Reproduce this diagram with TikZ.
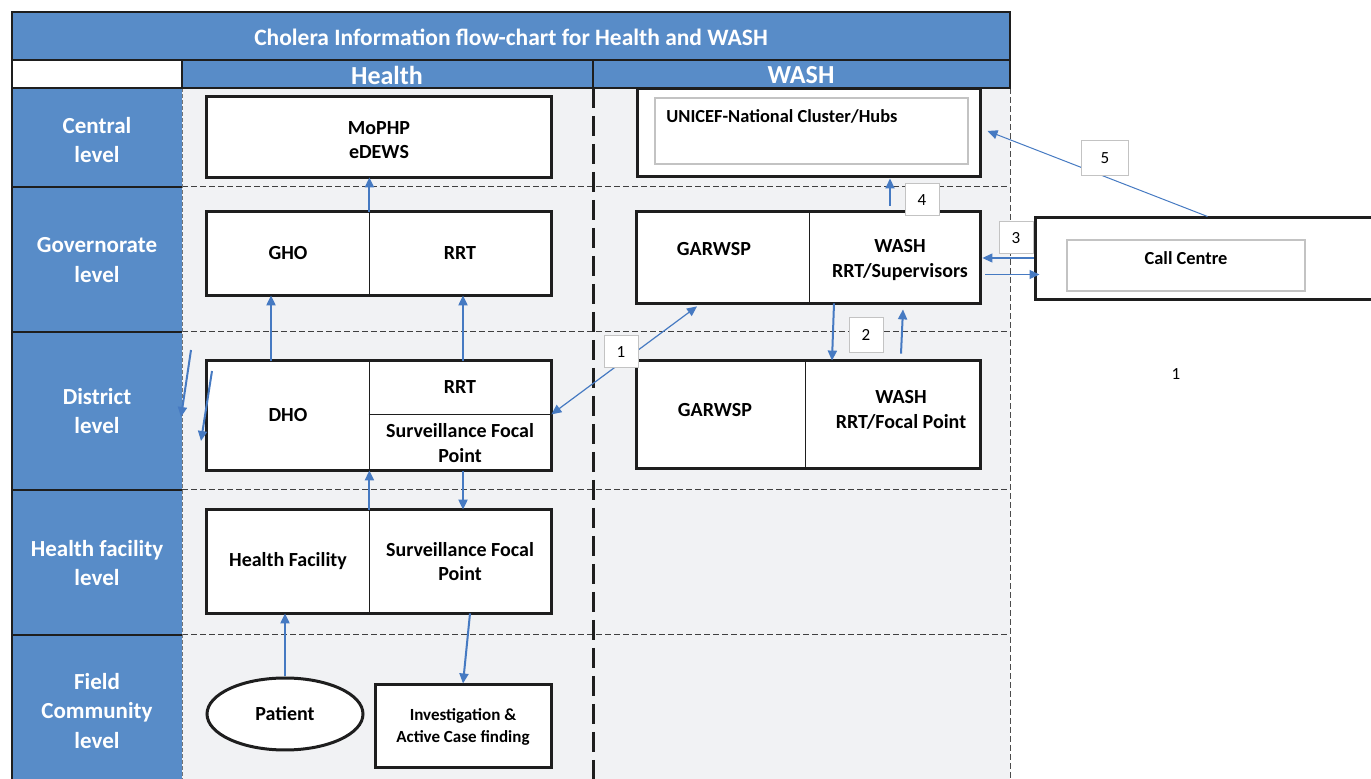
\documentclass[tikz,border=0pt]{standalone}
\usepackage{fontspec}
\setmainfont{Carlito}
\usetikzlibrary{arrows.meta,shapes.geometric}

\definecolor{hdrblue}{RGB}{88,140,200}
\definecolor{flowblue}{RGB}{70,122,194}
\definecolor{panel}{RGB}{241,242,244}
\definecolor{edge}{RGB}{30,30,30}
\definecolor{softgray}{RGB}{195,195,195}

\begin{document}
\begin{tikzpicture}[x=0.5pt,y=-0.5pt,
  cell/.style={inner sep=0pt, align=center, font=\bfseries\fontsize{10}{12.3}\selectfont},
  frame/.style={draw=edge, line width=1.5pt},
  divider/.style={draw=edge, line width=0.6pt},
  lvl/.style={text=white, align=center, font=\bfseries\fontsize{11.5}{14.8}\selectfont},
  flow/.style={draw=flowblue, line width=1pt, -{Triangle[length=5pt,width=4.5pt]}},
  thinflow/.style={draw=flowblue, line width=0.6pt, -{Triangle[length=5pt,width=4.5pt]}},
  numbox/.style={draw=softgray, fill=white, line width=0.5pt, inner sep=0pt,
    minimum width=17pt, minimum height=16pt, font=\fontsize{8.5}{9}\selectfont},
  rowsep/.style={draw=black!75, line width=0.5pt, dash pattern=on 3pt off 1.5pt},
  colsep/.style={draw=edge, line width=1.5pt, dash pattern=on 10pt off 4pt}
]
\useasboundingbox (0,0) rectangle (1371,779);

% ---- background panels ----
\fill[panel] (182,88) rectangle (1010,779);
\fill[hdrblue] (12,88) rectangle (182,779);
\draw[edge, line width=0.6pt] (12,88) -- (12,779);
\foreach \yy in {187,332,490,635}{
  \draw[edge, line width=0.6pt] (12,\yy) -- (182,\yy);
  \draw[rowsep] (182,\yy) -- (1010,\yy);
}
\draw[softgray!60!black, line width=0.4pt, dash pattern=on 2pt off 1pt] (182,88) -- (182,779);
\draw[black!70, line width=0.5pt, dash pattern=on 3pt off 1.5pt] (1010,88) -- (1010,779);
\draw[colsep] (593,88) -- (593,779);

% ---- title and column headers ----
\draw[edge, line width=0.6pt, fill=hdrblue] (12,12) rectangle (1010,60);
\node[text=white, font=\bfseries\fontsize{11.75}{13}\selectfont] (title) at (511,37)
  {Cholera Information flow-chart for Health and WASH};
\draw[edge, line width=0.6pt, fill=white] (12,60) rectangle (182,88);
\draw[edge, line width=0.6pt, fill=hdrblue] (182,60) rectangle (593,88);
\draw[edge, line width=0.6pt, fill=hdrblue] (593,60) rectangle (1010,88);
\node[text=white, font=\bfseries\fontsize{13}{14}\selectfont] (hHealth) at (387,75) {Health};
\node[text=white, font=\bfseries\fontsize{13}{14}\selectfont] (hWash) at (801,75) {WASH};

% ---- level labels ----
\node[lvl] (lCentral) at (97,140) {Central\\level};
\node[lvl] (lGov) at (97,260) {Governorate\\level};
\node[lvl] (lDist) at (97,411) {District\\level};
\node[lvl] (lHF) at (97,563) {Health facility\\level};
\node[lvl] (lField) at (97,711) {Field\\Community\\level};

% ---- Health column ----
\node[cell, fill=white, minimum width=172pt, minimum height=40pt] (mophp) at (379,137) {};
\node[cell] (mophpTxt) at (379,140) {MoPHP\\eDEWS};
\draw[frame] (mophp.north west) rectangle (mophp.south east);

\node[cell, fill=white, minimum width=81pt, minimum height=41.5pt] (gho) at (288,253.5) {GHO};
\node[cell, fill=white, minimum width=91pt, minimum height=41.5pt] (rrtg) at (460,253.5) {RRT};
\draw[divider] (gho.north east) -- (gho.south east);
\draw[frame] (gho.north west) rectangle (rrtg.south east);

\node[cell, fill=white, minimum width=81pt, minimum height=54.5pt] (dho) at (288,415.5) {DHO};
\node[cell, fill=white, minimum width=91pt, minimum height=26.5pt] (rrtd) at (460,387.5) {RRT};
\node[cell, fill=white, minimum width=91pt, minimum height=28pt] (sfpd) at (460,443) {Surveillance Focal\\Point};
\draw[divider] (dho.north east) -- (dho.south east);
\draw[divider] (rrtd.south west) -- (rrtd.south east);
\draw[frame] (dho.north west) rectangle (dho.south west -| sfpd.east);

\node[cell, fill=white, minimum width=81pt, minimum height=51.5pt] (hf) at (288,561.5) {Health Facility};
\node[cell, fill=white, minimum width=91pt, minimum height=51.5pt] (sfph) at (460,561.5) {Surveillance Focal\\Point};
\draw[divider] (hf.north east) -- (hf.south east);
\draw[frame] (hf.north west) rectangle (sfph.south east);

\node[cell, ellipse, draw=edge, line width=1.5pt, fill=white, minimum width=78pt, minimum height=36pt] (patient) at (285,714) {Patient};
\node[cell, draw=edge, line width=1.5pt, fill=white, minimum width=88pt, minimum height=41.5pt,
  font=\bfseries\fontsize{8.5}{11}\selectfont] (invest) at (463,726.5) {Investigation \&\\Active Case finding};

% ---- WASH column ----
\node[cell, draw=edge, line width=1.5pt, fill=white, minimum width=171.5pt, minimum height=44pt] (unicef) at (808.5,133) {};
\node[cell, draw=softgray, line width=0.6pt, fill=white, minimum width=156.5pt, minimum height=33pt] (unicefIn) at (811.5,131) {};
\node[cell, anchor=west, font=\bfseries\fontsize{9.2}{11}\selectfont] (unicefTxt) at (666,116) {UNICEF-National Cluster/Hubs};

\node[cell, fill=white, minimum width=86pt, minimum height=45.5pt] (garg) at (723,257.5) {};
\node[cell] (gargTxt) at (714,249) {GARWSP};
\node[cell, fill=white, minimum width=85.5pt, minimum height=45.5pt] (washg) at (894.5,257.5) {};
\node[cell] (washgTxt) at (900,260) {WASH\\RRT/Supervisors};
\draw[divider] (garg.north east) -- (garg.south east);
\draw[frame] (garg.north west) rectangle (washg.south east);

\node[cell, fill=white, minimum width=84pt, minimum height=53.5pt] (gard) at (721,414.5) {};
\node[cell] (gardTxt) at (715,410) {GARWSP};
\node[cell, fill=white, minimum width=87.5pt, minimum height=53.5pt] (washd) at (892.5,414.5) {};
\node[cell] (washdTxt) at (901,410) {WASH\\RRT/Focal Point};
\draw[divider] (gard.north east) -- (gard.south east);
\draw[frame] (gard.north west) rectangle (washd.south east);

% ---- Call centre ----
\node[cell, draw=edge, line width=1.5pt, fill=white, minimum width=172.5pt, minimum height=41pt] (callc) at (1207.5,259) {};
\node[cell, draw=softgray, line width=0.6pt, fill=white, minimum width=119pt, minimum height=25.5pt] (callcIn) at (1186,265.5) {};
\node[cell, font=\bfseries\fontsize{9.2}{11}\selectfont] (callcTxt) at (1186,258) {Call Centre};
\node[font=\fontsize{8.5}{9}\selectfont] (note1) at (1176,374) {1};

% ---- Health flows ----
\draw[flow] (gho.north east) -- (gho.north east |- mophp.south);
\draw[flow] ([xshift=-8.5pt]dho.north) -- ([xshift=-8.5pt]gho.south);
\draw[flow] ([xshift=1.5pt]rrtd.north) -- ([xshift=1.5pt]rrtg.south);
\draw[flow] (hf.north east) -- (dho.south east);
\draw[flow] ([xshift=1.5pt]sfpd.south) -- ([xshift=1.5pt]sfph.north);
\draw[flow] ([xshift=5pt]sfph.south) -- (invest.north);
\draw[flow] (patient.north) -- (patient.north |- hf.south);

% free arrows beside the district row
\coordinate (la1) at (191,350);
\coordinate (lb1) at (181,417);
\coordinate (la2) at (212,371);
\coordinate (lb2) at (201,441);
\draw[flow] (la1) -- (lb1);
\draw[flow] (la2) -- (lb2);

% ---- WASH flows ----
\draw[thinflow, {Triangle[length=5pt,width=4.5pt]}-{Triangle[length=5pt,width=4.5pt]}]
  (rrtd.south east) -- ([xshift=-13pt,yshift=-1.5pt]garg.south);
\node[numbox] (n1) at (621,352) {1};

\draw[flow] ([xshift=-30.25pt]washg.south) -- ([xshift=-30.25pt]washd.north);
\draw[flow] ([xshift=4.25pt,yshift=3.5pt]washd.north) -- ([xshift=4.25pt,yshift=-3pt]washg.south);
\node[numbox, minimum height=17.5pt] (n2) at (866,335) {2};

\draw[flow] ([xshift=-2.25pt,yshift=3pt]washg.north) -- ([xshift=-2.25pt]washg.north |- unicef.south);
\node[numbox] (n4) at (922,200) {4};

\draw[thinflow] ([yshift=0.5pt]callc.west) -- ([yshift=0.5pt,xshift=1pt]callc.west -| washg.east);
\draw[thinflow] ([yshift=-8.5pt,xshift=2.5pt]washg.east) -- ([yshift=-8.5pt,xshift=3pt]washg.east -| callc.west);
\node[numbox] (n3) at (1016,238) {3};

\draw[draw=flowblue, line width=0.5pt, -{Triangle[length=5pt,width=4.5pt]}] (callc.north) -- ([xshift=3pt,yshift=1pt]unicef.east);
\node[numbox, minimum width=23.5pt, minimum height=17.5pt] (n5) at (1105,158) {5};
\end{tikzpicture}
\end{document}
